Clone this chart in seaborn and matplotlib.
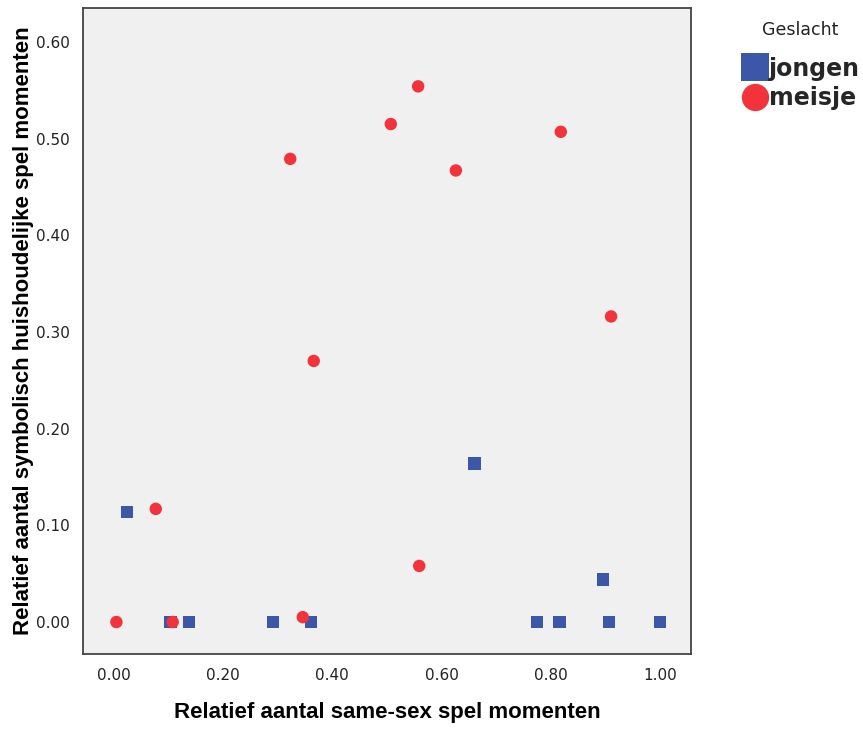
import pandas as pd
import matplotlib
matplotlib.use('Agg')
import matplotlib.pyplot as plt
from matplotlib.ticker import FormatStrFormatter
import seaborn as sns

# Gegevens
jongen_x = [0.024, 0.104, 0.138, 0.291, 0.361, 0.660, 0.774, 0.816, 0.895, 0.906, 1.000]
jongen_y = [0.114, 0.000, 0.000, 0.000, 0.000, 0.164, 0.000, 0.000, 0.044, 0.000, 0.000]
meisje_x = [0.005, 0.077, 0.108, 0.323, 0.346, 0.366, 0.507, 0.557, 0.559, 0.626, 0.818, 0.910]
meisje_y = [0.000, 0.117, 0.000, 0.479, 0.005, 0.270, 0.515, 0.554, 0.058, 0.467, 0.507, 0.316]
x_ticks = [0.0, 0.2, 0.4, 0.6, 0.8, 1.0]
y_ticks = [0.0, 0.1, 0.2, 0.3, 0.4, 0.5, 0.6]

df = pd.concat([
    pd.DataFrame({'x': jongen_x, 'y': jongen_y, 'Geslacht': 'jongen'}),
    pd.DataFrame({'x': meisje_x, 'y': meisje_y, 'Geslacht': 'meisje'}),
], ignore_index=True)

sns.set_style('white')
plt.rcParams['font.family'] = ['Liberation Sans', 'DejaVu Sans']

fig = plt.figure(figsize=(8.63, 7.29), dpi=100)
ax = fig.add_axes([0.0965, 0.103, 0.7038, 0.886])
ax.set_facecolor('#F0F0F0')

sns.scatterplot(data=df, x='x', y='y', hue='Geslacht', style='Geslacht',
                palette={'jongen': '#3D57A8', 'meisje': '#F2333B'},
                markers={'jongen': 's', 'meisje': 'o'},
                s=80, linewidth=0, ax=ax)

ax.set_xlim(-0.0556, 1.0556)
ax.set_ylim(-0.033, 0.635)
ax.set_xticks(x_ticks)
ax.set_yticks(y_ticks)
ax.xaxis.set_major_formatter(FormatStrFormatter('%.2f'))
ax.yaxis.set_major_formatter(FormatStrFormatter('%.2f'))
ax.tick_params(axis='both', direction='out', length=6, width=1.2,
               color='#333333', labelsize=11, labelcolor='#222222', pad=4)
for lab in ax.get_xticklabels() + ax.get_yticklabels():
    lab.set_fontfamily('DejaVu Sans')

for sp in ax.spines.values():
    sp.set_color('#444444')
    sp.set_linewidth(1.3)

ax.set_xlabel('Relatief aantal same-sex spel momenten', fontsize=16,
              fontweight='bold', labelpad=14, color='black')
ax.set_ylabel('Relatief aantal symbolisch huishoudelijke spel momenten',
              fontsize=16, fontweight='bold', labelpad=1, color='black')

# legenda rechtsboven, titel los erboven
handles, labels = ax.get_legend_handles_labels()
ax.legend(handles, labels, loc='upper left',
          bbox_to_anchor=(736 / 863, 1 - 52 / 729),
          bbox_transform=fig.transFigure, frameon=False, markerscale=2.2,
          handletextpad=0.0, handlelength=1.2, labelspacing=0.22,
          borderpad=0.2, borderaxespad=0,
          prop={'family': 'DejaVu Sans', 'weight': 'bold', 'size': 17})
fig.text(800 / 863, 1 - 30 / 729, 'Geslacht', ha='center', va='center',
         family='DejaVu Sans', fontsize=12.5, color='#222222')

plt.savefig('out.png', dpi=100)
